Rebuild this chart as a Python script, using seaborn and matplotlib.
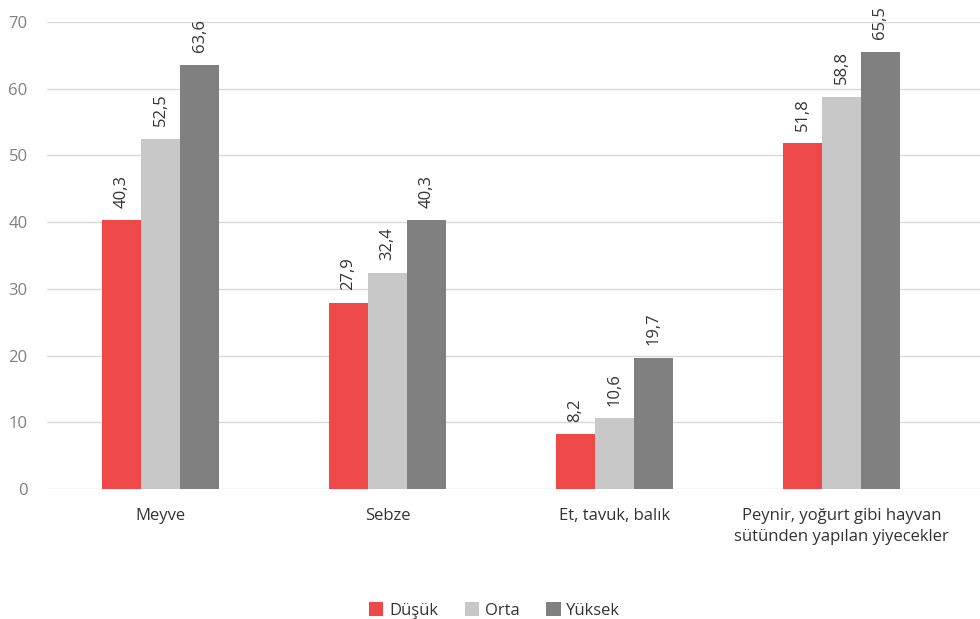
import pandas as pd
import seaborn as sns
import matplotlib.pyplot as plt

# Data
categories = ['Meyve', 'Sebze', 'Et, tavuk, balık',
              'Peynir, yoğurt gibi hayvan\nsütünden yapılan yiyecekler']
groups = ['Düşük', 'Orta', 'Yüksek']
dusuk = [40.3, 27.9, 8.2, 51.8]
orta = [52.5, 32.4, 10.6, 58.8]
yuksek = [63.6, 40.3, 19.7, 65.5]

colors = ['#ef4849', '#c8c8c8', '#808080']

df = pd.DataFrame({
    'kategori': categories * 3,
    'grup': [g for g in groups for _ in categories],
    'deger': dusuk + orta + yuksek,
})

sns.set_theme(style='white')
plt.rcParams['font.family'] = ['Open Sans', 'DejaVu Sans']

fig = plt.figure(figsize=(9.8, 6.19), dpi=100)
ax = fig.add_axes([0.048, 0.21, 0.952, 0.7545])

sns.barplot(data=df, x='kategori', y='deger', hue='grup', order=categories,
            hue_order=groups, palette=colors, width=0.515, saturation=1,
            errorbar=None, linewidth=0, ax=ax, zorder=3)

# Rotated value labels above each bar
for cont in ax.containers:
    ax.bar_label(cont, labels=[f'{v:.1f}'.replace('.', ',') for v in cont.datavalues],
                 rotation=90, padding=9, fontsize=12, color='#333333')

ax.set_ylim(0, 70)
ax.set_yticks(range(0, 71, 10))
ax.set_xlim(-0.5, 3.61)
ax.yaxis.grid(True, color='#d9d9d9', linewidth=1, zorder=0)
ax.set_axisbelow(True)
for s in ax.spines.values():
    s.set_visible(False)
ax.tick_params(axis='y', colors='#808080', labelsize=12, length=0, pad=14)
ax.tick_params(axis='x', colors='#333333', labelsize=12, length=0, pad=14)
for t in ax.get_xticklabels():
    t.set_linespacing(1.35)
ax.set_xlabel('')
ax.set_ylabel('')

ax.legend(loc='lower center', bbox_to_anchor=(0.48, -0.31), ncol=3, frameon=False,
          fontsize=12, handlelength=0.85, handleheight=0.85, handletextpad=0.35,
          columnspacing=1.6, labelcolor='#333333')

fig.savefig('out.png', dpi=100)
